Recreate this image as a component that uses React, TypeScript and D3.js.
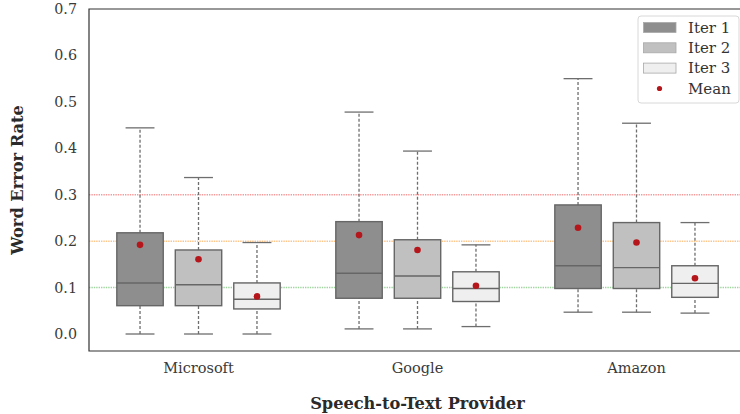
import { useEffect, useRef } from 'react';
import * as d3 from 'd3';

const providers = ['Microsoft', 'Google', 'Amazon'];
const iterations = ['Iter 1', 'Iter 2', 'Iter 3'];
const iterFill = ['#8e8e8e', '#c0c0c0', '#efefef'];

// per provider, per iteration
const whiskerLow = [[0.0, 0.0, 0.0], [0.011, 0.011, 0.016], [0.047, 0.047, 0.045]];
const q1 = [[0.061, 0.061, 0.054], [0.077, 0.077, 0.070], [0.098, 0.098, 0.079]];
const median = [[0.110, 0.106, 0.075], [0.131, 0.125, 0.098], [0.147, 0.143, 0.109]];
const q3 = [[0.218, 0.181, 0.110], [0.242, 0.203, 0.134], [0.278, 0.240, 0.147]];
const whiskerHigh = [[0.444, 0.337, 0.197], [0.478, 0.394, 0.192], [0.550, 0.454, 0.240]];
const means = [[0.192, 0.161, 0.081], [0.213, 0.181, 0.104], [0.229, 0.197, 0.120]];

const yTicks = [0.0, 0.1, 0.2, 0.3, 0.4, 0.5, 0.6, 0.7];
const refLines = [
  { value: 0.3, color: '#f59a9a' },
  { value: 0.2, color: '#ffc488' },
  { value: 0.1, color: '#9fd49f' },
];

const W = 740;
const H = 414;
const FONT = '"DejaVu Serif", serif';

export default function App() {
  const svgRef = useRef<SVGSVGElement>(null);

  useEffect(() => {
    if (!svgRef.current) return;
    const svg = d3.select(svgRef.current);
    svg.selectAll('*').remove();

    const left = 89, right = 746, top = 9, bottom = 351;
    const x = d3.scaleLinear().domain([-0.5, providers.length - 0.5]).range([left, right]);
    const y = d3.scaleLinear().domain([-0.0366, 0.7]).range([bottom, top]);

    const hueStep = 0.267;
    const boxW = x(0.212) - x(0);
    const capW = x(0.132) - x(0);

    // ── Reference lines ───────────────────────────────────
    refLines.forEach(r => {
      svg.append('line')
        .attr('x1', left).attr('x2', right)
        .attr('y1', y(r.value)).attr('y2', y(r.value))
        .attr('stroke', r.color).attr('stroke-width', 1.5)
        .attr('stroke-dasharray', '1.4,1.0');
    });

    // ── Boxes ─────────────────────────────────────────────
    providers.forEach((p, pi) => {
      iterations.forEach((it, ii) => {
        const cx = x(pi + (ii - 1) * hueStep);
        const g = svg.append('g');
        // whiskers
        [[whiskerLow[pi][ii], q1[pi][ii]], [q3[pi][ii], whiskerHigh[pi][ii]]].forEach(([a, b]) => {
          g.append('line')
            .attr('x1', cx).attr('x2', cx)
            .attr('y1', y(a)).attr('y2', y(b))
            .attr('stroke', '#6e6e6e').attr('stroke-width', 1.3)
            .attr('stroke-dasharray', '3,2');
        });
        [whiskerLow[pi][ii], whiskerHigh[pi][ii]].forEach(v => {
          g.append('line')
            .attr('x1', cx - capW / 2).attr('x2', cx + capW / 2)
            .attr('y1', y(v)).attr('y2', y(v))
            .attr('stroke', '#6e6e6e').attr('stroke-width', 1.3);
        });
        g.append('rect')
          .attr('x', cx - boxW / 2).attr('y', y(q3[pi][ii]))
          .attr('width', boxW).attr('height', y(q1[pi][ii]) - y(q3[pi][ii]))
          .attr('fill', iterFill[ii]).attr('stroke', '#666').attr('stroke-width', 1.4);
        g.append('line')
          .attr('x1', cx - boxW / 2).attr('x2', cx + boxW / 2)
          .attr('y1', y(median[pi][ii])).attr('y2', y(median[pi][ii]))
          .attr('stroke', '#666').attr('stroke-width', 1.4);
        g.append('circle')
          .attr('cx', cx).attr('cy', y(means[pi][ii]))
          .attr('r', 3.3).attr('fill', '#b5161c');
      });
    });

    // ── Spines ────────────────────────────────────────────
    svg.append('path')
      .attr('d', `M${right},${top}H${left}V${bottom}H${right}`)
      .attr('fill', 'none').attr('stroke', '#333').attr('stroke-width', 1.2);

    // ── Tick labels ───────────────────────────────────────
    yTicks.forEach(t => {
      svg.append('text')
        .attr('x', 77).attr('y', y(t)).attr('dy', '0.35em')
        .attr('text-anchor', 'end').attr('font-size', 14.3)
        .attr('fill', '#3a3a3a').attr('font-family', FONT)
        .text(t.toFixed(1));
    });
    providers.forEach((p, pi) => {
      svg.append('text')
        .attr('x', x(pi)).attr('y', 373)
        .attr('text-anchor', 'middle').attr('font-size', 14.5)
        .attr('fill', '#3a3a3a').attr('font-family', FONT)
        .text(p);
    });

    // ── Axis labels ───────────────────────────────────────
    svg.append('text')
      .attr('x', (left + right) / 2).attr('y', 409)
      .attr('text-anchor', 'middle').attr('font-size', 16.2)
      .attr('font-weight', 'bold').attr('fill', '#2a2a2a').attr('font-family', FONT)
      .text('Speech-to-Text Provider');
    svg.append('text')
      .attr('transform', `translate(23, ${(top + bottom) / 2}) rotate(-90)`)
      .attr('text-anchor', 'middle').attr('font-size', 16.2)
      .attr('font-weight', 'bold').attr('fill', '#2a2a2a').attr('font-family', FONT)
      .text('Word Error Rate');

    // ── Legend ────────────────────────────────────────────
    const lg = svg.append('g').attr('transform', 'translate(638, 16)');
    lg.append('rect')
      .attr('width', 101).attr('height', 87).attr('rx', 3)
      .attr('fill', '#fff').attr('fill-opacity', 0.85)
      .attr('stroke', '#d8d8d8');
    iterations.forEach((it, ii) => {
      const cy = 11.5 + ii * 20.3;
      lg.append('rect')
        .attr('x', 5.5).attr('y', cy - 5).attr('width', 32.5).attr('height', 10)
        .attr('fill', iterFill[ii]).attr('stroke', '#a8a8a8').attr('stroke-width', 0.8);
      lg.append('text')
        .attr('x', 50).attr('y', cy).attr('dy', '0.35em')
        .attr('font-size', 15).attr('fill', '#333').attr('font-family', FONT)
        .text(it);
    });
    lg.append('circle').attr('cx', 21.5).attr('cy', 72.5).attr('r', 2.6).attr('fill', '#b5161c');
    lg.append('text')
      .attr('x', 50).attr('y', 72.5).attr('dy', '0.35em')
      .attr('font-size', 15).attr('fill', '#333').attr('font-family', FONT)
      .text('Mean');
  }, []);

  return (
    <div style={{ position: 'absolute', top: 0, left: 0, width: W, height: H, background: '#fff', overflow: 'hidden' }}>
      <svg ref={svgRef} width={W} height={H} style={{ display: 'block' }} />
    </div>
  );
}
